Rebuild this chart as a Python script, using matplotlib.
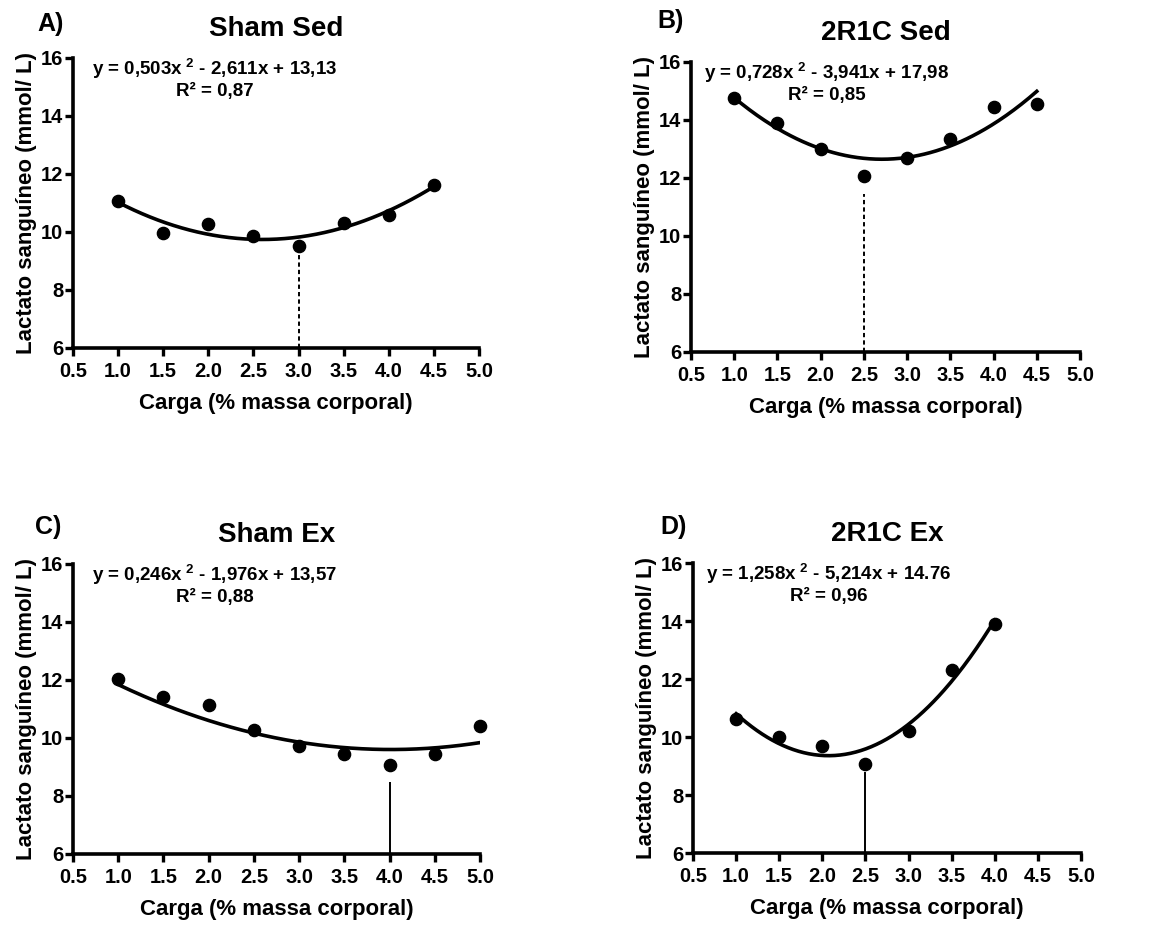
import matplotlib

matplotlib.use("Agg")
import matplotlib.pyplot as plt
import numpy as np

plt.rcParams.update(
    {
        "font.family": ["Liberation Sans", "DejaVu Sans"],
        "font.weight": "bold",
        "axes.labelweight": "bold",
        "axes.titleweight": "bold",
        "mathtext.fontset": "custom",
        "mathtext.bf": "Liberation Sans:bold",
        "mathtext.rm": "Liberation Sans:bold",
    }
)

# --- data ------------------------------------------------------------------------------------
loads_a = [1.0, 1.5, 2.0, 2.5, 3.0, 3.5, 4.0, 4.5]
lactate_a = [11.08, 9.95, 10.28, 9.87, 9.53, 10.30, 10.57, 11.63]
coef_a = [0.503, -2.611, 13.13]
eq_a = ("y = 0,503x$^{\\mathbf{\\ 2}}$ - 2,611x + 13,13", "R² = 0,87")
vline_a = (3.0, 9.28)

loads_b = [1.0, 1.5, 2.0, 2.5, 3.0, 3.5, 4.0, 4.5]
lactate_b = [14.77, 13.90, 13.01, 12.06, 12.68, 13.36, 14.45, 14.54]
coef_b = [0.728, -3.941, 17.98]
eq_b = ("y = 0,728x$^{\\mathbf{\\ 2}}$ - 3,941x + 17,98", "R² = 0,85")
vline_b = (2.5, 11.45)

loads_c = [1.0, 1.5, 2.0, 2.5, 3.0, 3.5, 4.0, 4.5, 5.0]
lactate_c = [12.05, 11.42, 11.12, 10.29, 9.73, 9.44, 9.07, 9.44, 10.42]
coef_c = [0.246, -1.976, 13.57]
eq_c = ("y = 0,246x$^{\\mathbf{\\ 2}}$ - 1,976x + 13,57", "R² = 0,88")
vline_c = (4.0, 8.47)

loads_d = [1.0, 1.5, 2.0, 2.5, 3.0, 3.5, 4.0]
lactate_d = [10.62, 9.99, 9.68, 9.08, 10.20, 12.32, 13.90]
coef_d = [1.258, -5.214, 14.76]
eq_d = ("y = 1,258x$^{\\mathbf{\\ 2}}$ - 5,214x + 14.76", "R² = 0,96")
vline_d = (2.5, 8.78)

x_ticks = [0.5, 1.0, 1.5, 2.0, 2.5, 3.0, 3.5, 4.0, 4.5, 5.0]
y_ticks = [6, 8, 10, 12, 14, 16]

W, H = 1172, 925
# tag, title, x, y, fit coefs, equation, marker line, line style, axes rect, tag position (px)
panels = [
    ("A)", "Sham Sed", loads_a, lactate_a, coef_a, eq_a, vline_a, "dashed",
     [0.0623, 0.6238, 0.3464, 0.3135], (37, 24)),
    ("B)", "2R1C Sed", loads_b, lactate_b, coef_b, eq_b, vline_b, "dashed",
     [0.5896, 0.6195, 0.3319, 0.3135], (657, 21)),
    ("C)", "Sham Ex", loads_c, lactate_c, coef_c, eq_c, vline_c, "solid",
     [0.0623, 0.0768, 0.3473, 0.3135], (35, 527)),
    ("D)", "2R1C Ex", loads_d, lactate_d, coef_d, eq_d, vline_d, "solid",
     [0.5913, 0.0778, 0.3310, 0.3135], (660, 527)),
]

fig = plt.figure(figsize=(W / 100, H / 100), dpi=100)

for tag, title, xs, ys, coef, eq, vline, vstyle, rect, tag_px in panels:
    ax = fig.add_axes(rect)
    xfit = np.linspace(min(xs), max(xs), 200)
    ax.plot(xfit, np.polyval(coef, xfit), color="black", lw=2.6, zorder=2)
    ax.plot(xs, ys, "o", color="black", ms=8.8, clip_on=False, zorder=3)

    ls = (0, (2.2, 1.6)) if vstyle == "dashed" else "-"
    ax.vlines(vline[0], 6, vline[1], colors="black", linestyles=[ls], lw=1.4, zorder=2)

    ax.text(2.07, 15.43, eq[0], ha="center", va="baseline", fontsize=13.5, fontweight="bold")
    ax.text(2.07, 14.68, eq[1], ha="center", va="baseline", fontsize=13.5, fontweight="bold")

    ax.set_xlim(0.5, 5.0)
    ax.set_ylim(6, 16)
    ax.set_xticks(x_ticks)
    ax.set_xticklabels([f"{v:.1f}" for v in x_ticks])
    ax.set_yticks(y_ticks)
    ax.tick_params(width=2.4, length=6, labelsize=14.5)
    ax.tick_params(axis="x", pad=4)
    ax.tick_params(axis="y", pad=1)
    for lbl in ax.get_xticklabels() + ax.get_yticklabels():
        lbl.set_fontweight("bold")
    for side in ("top", "right"):
        ax.spines[side].set_visible(False)
    for side in ("left", "bottom"):
        ax.spines[side].set_linewidth(2.6)

    ax.set_xlabel("Carga (% massa corporal)", fontsize=16, labelpad=9)
    ax.set_ylabel("Lactato sanguíneo (mmol/ L)", fontsize=16, labelpad=3)
    ax.set_title(title, fontsize=20, pad=16)
    fig.text(tag_px[0] / W, 1 - tag_px[1] / H, tag, fontsize=18, fontweight="bold",
             ha="left", va="center")

fig.savefig("out.png", dpi=100)
